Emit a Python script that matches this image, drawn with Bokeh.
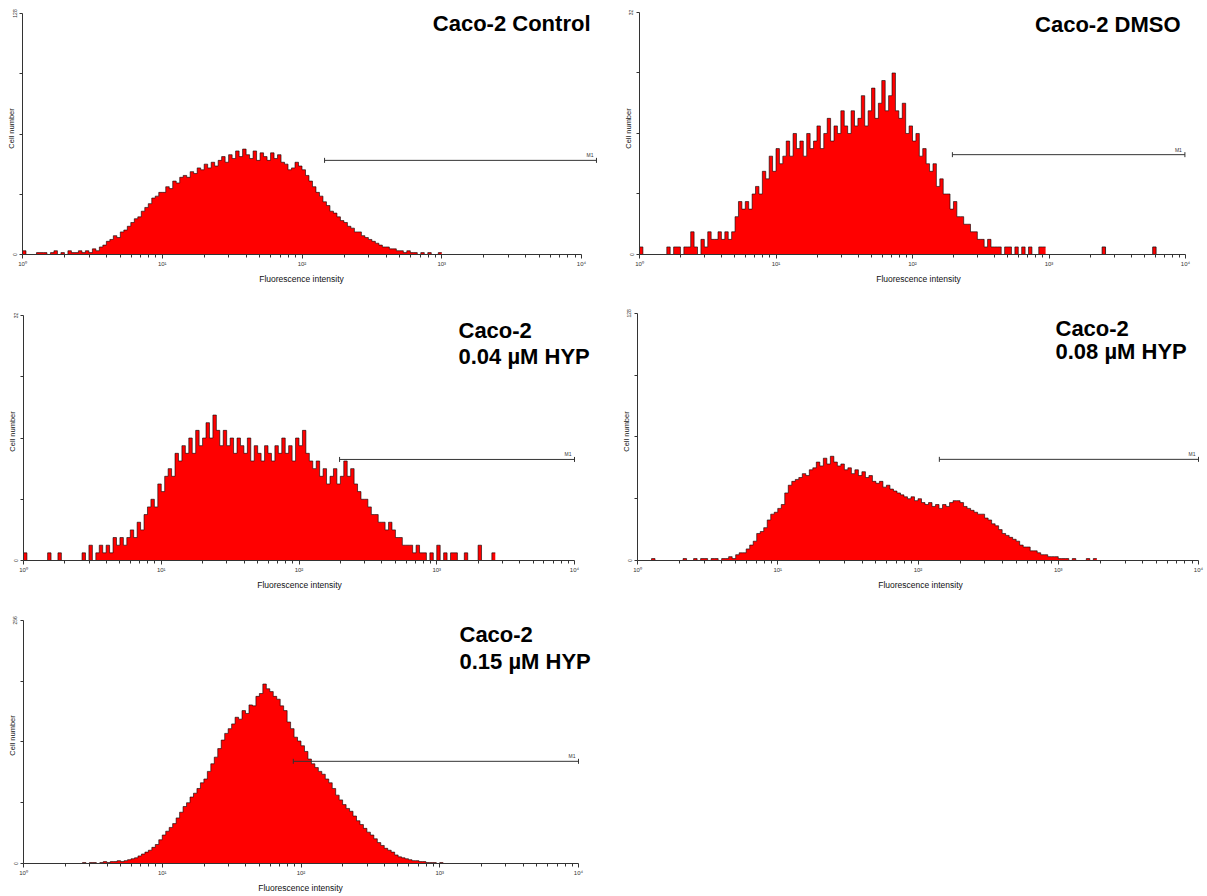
import math
from bokeh.plotting import figure
from bokeh.layouts import column, row
from bokeh.models import FixedTicker, Range1d, Title
from bokeh.core.properties import value
from bokeh.embed import file_html
from bokeh.resources import INLINE

# ---------------- data ----------------
BIN = 0.025  # width of one histogram bin, in decades of fluorescence intensity

x_tick_values = [1, 10, 100, 1000, 10000]
x_tick_labels = ["10\u2070", "10\u00b9", "10\u00b2", "10\u00b3", "10\u2074"]
x_title = "Fluorescence intensity"
y_title = "Cell number"

ctrl_start = 0.0
ctrl_counts = [2, 0, 0, 0, 1, 1, 1, 0, 1, 2, 0, 1, 0, 2, 1, 1, 2, 1, 2, 1,
               3, 2, 4, 5, 7, 8, 10, 9, 12, 13, 15, 17, 19, 20, 23, 25, 27, 30, 31, 33,
               33, 36, 35, 39, 38, 41, 42, 41, 44, 43, 46, 45, 48, 46, 49, 47, 50, 52, 49, 53,
               51, 55, 52, 56, 53, 51, 55, 50, 54, 52, 50, 54, 51, 53, 49, 48, 45, 46, 49, 47,
               45, 42, 39, 36, 33, 31, 28, 26, 23, 22, 20, 18, 17, 15, 14, 12, 12, 10, 9, 8,
               7, 6, 5, 4, 4, 3, 3, 2, 2, 1, 2, 1, 1, 0, 1, 0, 1, 0, 0, 1]
ctrl_extra_x = []
ctrl_extra_n = []

dmso_start = 0.0
dmso_counts = [1, 0, 0, 0, 0, 0, 0, 0, 1, 0, 1, 1, 0, 1, 1, 3, 1, 0, 2, 1,
               3, 2, 2, 3, 2, 3, 2, 3, 5, 7, 6, 7, 6, 8, 9, 8, 11, 10, 13, 11,
               14, 12, 13, 15, 13, 16, 14, 15, 13, 16, 14, 15, 17, 14, 16, 18, 15, 17, 16, 19,
               17, 16, 19, 17, 18, 21, 17, 19, 22, 18, 20, 23, 19, 21, 24, 19, 18, 20, 16, 17,
               15, 16, 13, 14, 12, 11, 12, 9, 10, 8, 8, 6, 7, 5, 5, 4, 4, 3, 3, 2,
               2, 1, 2, 1, 1, 1, 0, 1, 1, 0, 1, 0, 1, 0, 1, 0, 0, 1, 1]
dmso_extra_x = [2450, 5750]
dmso_extra_n = [1, 1]

hyp04_start = 0.0
hyp04_counts = [1, 0, 0, 0, 0, 0, 0, 1, 0, 0, 1, 0, 0, 0, 0, 0, 0, 1, 0, 2,
                0, 1, 2, 1, 2, 1, 3, 2, 3, 2, 3, 4, 3, 5, 4, 6, 7, 8, 7, 10,
                9, 11, 12, 11, 14, 13, 15, 14, 16, 14, 17, 15, 16, 18, 16, 19, 17, 15, 17, 15,
                16, 14, 16, 15, 14, 16, 13, 15, 14, 13, 15, 14, 13, 15, 14, 16, 14, 15, 13, 16,
                15, 17, 14, 13, 12, 13, 11, 12, 10, 11, 12, 10, 11, 13, 11, 12, 10, 9, 8, 8,
                7, 6, 6, 5, 5, 4, 5, 4, 3, 3, 2, 2, 2, 1, 2, 1, 1, 0, 1, 0,
                2, 0, 1, 0, 1, 1, 0, 0, 1, 0, 0, 0, 2, 0, 0, 0, 1]
hyp04_extra_x = []
hyp04_extra_n = []

hyp08_start = 0.0
hyp08_counts = [0, 0, 0, 0, 1, 0, 0, 0, 0, 0, 0, 0, 0, 1, 0, 0, 1, 0, 1, 1,
                0, 1, 1, 0, 1, 1, 2, 1, 3, 4, 4, 6, 8, 10, 14, 15, 17, 21, 24, 25,
                27, 29, 35, 39, 41, 42, 43, 45, 44, 47, 48, 51, 49, 53, 50, 54, 51, 49, 50, 47,
                48, 45, 47, 44, 46, 43, 44, 41, 40, 41, 38, 39, 37, 36, 35, 34, 33, 32, 33, 31,
                32, 30, 29, 30, 28, 29, 27, 29, 28, 30, 31, 31, 30, 28, 27, 26, 25, 24, 24, 22,
                21, 19, 18, 16, 14, 13, 12, 11, 10, 8, 7, 7, 5, 5, 4, 3, 3, 2, 2, 2,
                1, 1, 1, 0, 1, 0, 0, 0, 1, 0, 1]
hyp08_extra_x = []
hyp08_extra_n = []

hyp15_start = 0.0
hyp15_counts = [0, 0, 0, 0, 0, 0, 0, 0, 0, 0, 0, 0, 0, 0, 0, 0, 0, 1, 0, 1,
                1, 0, 1, 2, 1, 2, 2, 3, 2, 3, 4, 5, 6, 8, 10, 12, 14, 17, 20, 25,
                30, 34, 38, 42, 48, 54, 60, 64, 70, 74, 79, 85, 89, 97, 105, 112, 121, 130, 137, 142,
                147, 154, 152, 161, 158, 167, 166, 176, 179, 189, 184, 181, 176, 173, 166, 161, 149, 142, 133, 129,
                124, 118, 110, 105, 101, 97, 94, 89, 85, 79, 72, 67, 62, 58, 55, 50, 45, 41, 37, 33,
                30, 26, 22, 19, 16, 14, 12, 9, 7, 6, 5, 4, 3, 3, 2, 2, 1, 1, 1, 0, 1]
hyp15_extra_x = []
hyp15_extra_n = []

panel_titles = [["Caco-2 Control"], ["Caco-2 DMSO"], ["Caco-2", "0.04 \u00b5M HYP"],
                ["Caco-2", "0.08 \u00b5M HYP"], ["Caco-2", "0.15 \u00b5M HYP"]]
y_max = [128, 32, 32, 128, 256]
gate_lo = [145, 196, 197, 142, 88]
gate_hi = [12800, 9900, 10000, 10000, 10000]
gate_y = [50, 13.2, 13.2, 52.4, 107.6]
gate_name = "M1"

# ---------------- layout (page pixels) ----------------
# fig_left, fig_top, width, height, px of 10^0, px of 10^4, baseline px, px of y max
specs = [
    (0, 0, 605, 300, 22, 581, 254, 13),
    (605, 0, 602, 300, 639, 1185, 255, 12),
    (0, 300, 605, 305, 23, 574, 560, 315),
    (605, 300, 602, 305, 637, 1198, 562, 313),
    (0, 605, 605, 291, 23, 578, 865, 620),
]
title_pos = [
    ("right", 590, [23]),
    ("right", 1180, [24]),
    ("left", 458, [330, 356]),
    ("left", 1055, [328, 351]),
    ("left", 459, [634, 661]),
]
xlabel_center = [301, 918, 299, 920, 300]
XLABEL_W = 84.6  # approx. rendered width of the x title at 8.5px

FONT = "Liberation Sans"
AXC = "#333333"


def make_panel(k, counts, start, ex_x, ex_n):
    fl, ft, w, h, x0, x4, base, top = specs[k]
    ymax = y_max[k]
    frame_top = ft + 2
    frame_right = fl + w - 3
    dec_px = (x4 - x0) / 4.0

    def dx(px):
        return 10 ** ((px - x0) / dec_px)

    def dy(py):
        return (base - py) * ymax / (base - top)

    p = figure(width=w, height=h, x_axis_type="log",
               x_range=Range1d(1, dx(frame_right)), y_range=Range1d(0, dy(frame_top)),
               output_backend="svg", toolbar_location=None,
               min_border_left=x0 - fl, min_border_right=3, min_border_top=2,
               min_border_bottom=ft + h - base)
    p.outline_line_color = None
    p.grid.visible = False
    p.background_fill_color = "white"
    p.border_fill_color = "white"

    # histogram
    xs = [10 ** start]
    ys = [0]
    r = xs[0]
    for i, c in enumerate(counts):
        l = 10 ** (start + i * BIN)
        r = 10 ** (start + (i + 1) * BIN)
        xs += [l, r]
        ys += [c, c]
    xs.append(r)
    ys.append(0)
    p.patch(xs, ys, fill_color="#ff0000", line_color=None)
    p.line(xs[1:-1], ys[1:-1], line_color="#000000", line_width=0.7, line_alpha=0.85)
    if ex_x:
        lefts = [v for v in ex_x]
        rights = [v * 10 ** BIN for v in ex_x]
        p.quad(left=lefts, right=rights, bottom=[0] * len(ex_x), top=ex_n,
               fill_color="#ff0000", line_color="#000000", line_width=0.7)

    # gate
    gy = gate_y[k]
    p.line([gate_lo[k], gate_hi[k]], [gy, gy], line_color=AXC, line_width=1)
    p.scatter([gate_lo[k], gate_hi[k]], [gy, gy], marker="dash", size=5,
              angle=math.pi / 2, line_color=AXC, line_width=1)
    p.text(x=[gate_hi[k]], y=[gy], text=[gate_name], text_font=value(FONT),
           text_font_size="5px", text_align="right", text_baseline="bottom",
           x_offset=-3, y_offset=-2, text_color=AXC)

    # title
    align, tx, tys = title_pos[k]
    for line, ty in zip(panel_titles[k], tys):
        p.text(x=[dx(tx)], y=[dy(ty)], text=[line], text_font=value(FONT),
               text_font_style="bold", text_font_size="22px", text_align=align,
               text_baseline="middle", text_color="black")

    # x axis
    xa = p.xaxis[0]
    minors = [m * d for d in [1, 10, 100, 1000] for m in range(2, 10)]
    xa.ticker = FixedTicker(ticks=x_tick_values, minor_ticks=minors)
    xa.major_label_overrides = {t: s for t, s in zip(x_tick_values, x_tick_labels)}
    xa.bounds = (1, 10000)
    xa.axis_line_color = AXC
    xa.major_tick_line_color = AXC
    xa.minor_tick_line_color = AXC
    xa.major_tick_out = 4
    xa.major_tick_in = 0
    xa.minor_tick_out = 3
    xa.minor_tick_in = 0
    xa.major_label_text_font = FONT
    xa.major_label_text_font_size = "6px"
    xa.major_label_text_color = AXC
    xa.major_label_standoff = 2

    off = xlabel_center[k] - XLABEL_W / 2 - x0
    p.add_layout(Title(text=x_title, align="left", offset=off, standoff=6,
                       vertical_align="middle", text_font=FONT,
                       text_font_size="8.5px", text_font_style="normal",
                       text_color="#111111"), "below")

    # y axis
    ya = p.yaxis[0]
    yt = [0, ymax // 4, ymax // 2, 3 * ymax // 4, ymax]
    ya.ticker = FixedTicker(ticks=yt, minor_ticks=[])
    ya.major_label_overrides = {yt[1]: "", yt[2]: "", yt[3]: ""}
    ya.bounds = (0, ymax)
    ya.axis_line_color = AXC
    ya.major_tick_line_color = AXC
    ya.major_tick_out = 3
    ya.major_tick_in = 0
    ya.major_label_orientation = "vertical"
    ya.major_label_text_font = FONT
    ya.major_label_text_font_size = "5px"
    ya.major_label_text_color = AXC
    ya.major_label_standoff = 3
    ya.axis_label = y_title
    ya.axis_label_text_font = FONT
    ya.axis_label_text_font_style = "normal"
    ya.axis_label_text_font_size = "7.5px"
    ya.axis_label_text_color = "#111111"
    ya.axis_label_standoff = -6
    return p


p1 = make_panel(0, ctrl_counts, ctrl_start, ctrl_extra_x, ctrl_extra_n)
p2 = make_panel(1, dmso_counts, dmso_start, dmso_extra_x, dmso_extra_n)
p3 = make_panel(2, hyp04_counts, hyp04_start, hyp04_extra_x, hyp04_extra_n)
p4 = make_panel(3, hyp08_counts, hyp08_start, hyp08_extra_x, hyp08_extra_n)
p5 = make_panel(4, hyp15_counts, hyp15_start, hyp15_extra_x, hyp15_extra_n)

layout = column(row(p1, p2), row(p3, p4), row(p5))
open("out.html", "w").write(file_html(layout, INLINE))
